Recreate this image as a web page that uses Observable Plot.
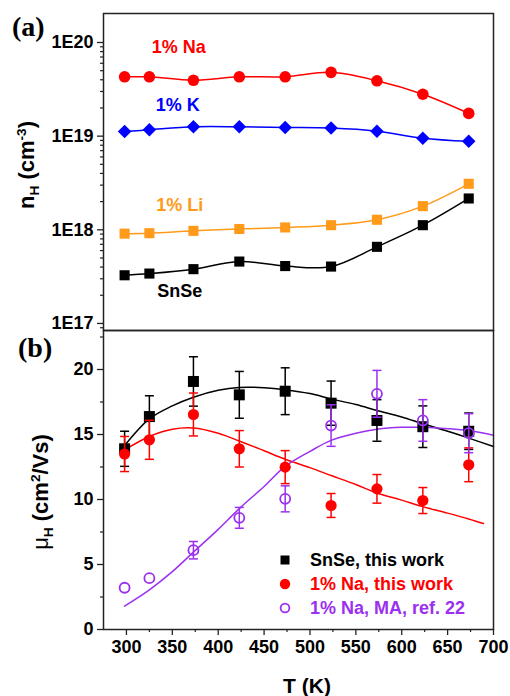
<!DOCTYPE html>
<html><head><meta charset="utf-8">
<script src="https://cdn.jsdelivr.net/npm/d3@7"></script>
<script src="https://cdn.jsdelivr.net/npm/@observablehq/plot@0.6"></script>
<style>
body{margin:0;background:#fff;}
#wrap{position:relative;width:510px;height:696px;overflow:hidden;font-family:"Liberation Sans",Arial,sans-serif;font-weight:bold;color:#000;}
#wrap svg{position:absolute;left:0;overflow:visible;}
.lbl{position:absolute;white-space:nowrap;line-height:1;}
.rot{transform:translate(-50%,-50%) rotate(-90deg);font-size:22px;}
.pl{font-family:"Liberation Serif","Times New Roman",serif;font-size:28px;}
.leg{position:absolute;left:278px;font-size:18px;}
.leg div{height:24px;display:flex;align-items:center;}
.leg svg{position:static !important;margin-right:18px;}
sub,sup{font-size:0.62em;line-height:0;}
</style></head><body><div id="wrap"></div>
<script>
// ---------- data ----------
const T = [298, 325, 373, 423, 473, 523, 573, 623, 673];
// panel (a): Hall carrier concentration n_H (cm^-3)
const nNa   = [4.3e19, 4.3e19, 3.95e19, 4.3e19, 4.3e19, 4.8e19, 3.9e19, 2.8e19, 1.75e19];
const nK    = [1.12e19, 1.17e19, 1.26e19, 1.26e19, 1.24e19, 1.22e19, 1.13e19, 9.5e18, 8.8e18];
const nLi   = [9.1e17, 9.2e17, 9.75e17, 1.02e18, 1.06e18, 1.12e18, 1.28e18, 1.79e18, 3.1e18];
const nSnSe = [3.27e17, 3.41e17, 3.8e17, 4.58e17, 4.1e17, 4.05e17, 6.58e17, 1.12e18, 2.16e18];
// panel (b): Hall mobility mu_H (cm^2/Vs) with error bars
const muSnSe  = [13.9, 16.38, 19.08, 18.05, 18.33, 17.41, 16.08, 15.6, 15.25];
const errSnSe = [1.35, 1.6, 1.9, 1.8, 1.8, 1.7, 1.6, 1.6, 1.4];
const muNa    = [13.5, 14.59, 16.54, 13.9, 12.49, 9.54, 10.82, 9.92, 12.67];
const errNa   = [1.35, 1.5, 1.65, 1.4, 1.27, 0.92, 1.1, 1.0, 1.3];
const muMA    = [3.21, 3.95, 6.1, 8.59, 10.05, 15.69, 18.13, 16.08, 15.1];
const errMA   = [0, 0, 0.67, 0.8, 1.0, 1.6, 1.8, 1.6, 1.5];
// fitted curves
const fitT     = [298, 325, 350, 373, 400, 423, 450, 473, 500, 523, 550, 573, 600, 623, 650, 673, 700];
const fitSnSe  = [14.15, 16.2, 17.2, 17.87, 18.4, 18.62, 18.6, 18.45, 18.15, 17.74, 17.3, 16.85, 16.35, 15.82, 15.25, 14.72, 14.08];
const fitNaT   = [298, 325, 350, 373, 400, 423, 450, 473, 500, 523, 550, 573, 600, 623, 650, 673, 689];
const fitNa    = [13.82, 14.85, 15.4, 15.5, 15.1, 14.5, 13.75, 13.1, 12.45, 11.85, 11.15, 10.5, 9.95, 9.45, 8.95, 8.5, 8.15];
const fitMA    = [1.8, 3.05, 4.45, 5.95, 7.7, 9.3, 11.0, 12.55, 13.7, 14.55, 15.1, 15.4, 15.55, 15.55, 15.45, 15.3, 14.95];
// ticks
const nTicks = [1e17, 1e18, 1e19, 1e20];
const nTickLabels = ["1E17", "1E18", "1E19", "1E20"];
const muTicks = [0, 5, 10, 15, 20];
const muMinor = [2.5, 7.5, 12.5, 17.5, 22.5];
const tTicks = [300, 350, 400, 450, 500, 550, 600, 650, 700];
const tMinor = [325, 375, 425, 475, 525, 575, 625, 675];
// series labels in panel (a)
const aLabels = ["1% Na", "1% K", "1% Li", "SnSe"];
const aLabelT = [357, 356, 358, 358];
const aLabelN = [8.85e19, 2.12e19, 1.85e18, 2.23e17];
const legendLabels = ["SnSe, this work", "1% Na, this work", "1% Na, MA, ref. 22"];

// ---------- styles ----------
const RED = "#ff0000", BLUE = "#0000ff", ORANGE = "#ff9a1a", PURPLE = "#9b30f0", BLACK = "#000000";
const AX = "#222";
const FONT = '"Liberation Sans", Arial, sans-serif';
const base = {fontFamily: FONT, fontWeight: "bold", fontSize: "18px", color: "#000", background: "transparent", overflow: "visible"};
const xDomain = [275, 700];
const nMinor = [];
for (let e = 16; e <= 19; e++) for (let m = 2; m <= 9; m++) { const v = m * 10 ** e; if (v > 8.4e16 && v < 2.04e20) nMinor.push(v); }

const rows = (ys) => T.map((t, i) => ({T: t, v: ys[i]}));
const erows = (ys, es) => T.map((t, i) => ({T: t, v: ys[i], lo: ys[i] - es[i], hi: ys[i] + es[i], e: es[i]})).filter(d => d.e > 0);
const frows = (ts, ys) => ts.map((t, i) => ({T: t, v: ys[i]}));
const cap = {draw(ctx) { ctx.moveTo(-4.5, 0); ctx.lineTo(4.5, 0); }};
const inTick = {draw(ctx, l) { ctx.moveTo(0, 0); ctx.lineTo(0, -l); }};

// ---------- panel (a) ----------
const plotA = Plot.plot({
  width: 510, height: 332, marginLeft: 103, marginRight: 17, marginTop: 13, marginBottom: 2,
  style: base,
  x: {domain: xDomain, axis: null},
  y: {type: "log", domain: [8.41e16, 2.04e20]},
  marks: [
    Plot.axisY(nMinor, {tickSize: 3, tickFormat: () => "", stroke: AX, strokeWidth: 1.2, label: null}),
    Plot.axisY(nTicks, {tickSize: 6, tickPadding: 4, tickFormat: d => nTickLabels[nTicks.indexOf(d)], stroke: AX, strokeWidth: 1.3, fontSize: 18, fontWeight: "bold", fill: "#000", label: null}),
    Plot.line(rows(nNa), {x: "T", y: "v", stroke: RED, strokeWidth: 1.5, curve: "catmull-rom"}),
    Plot.line(rows(nK), {x: "T", y: "v", stroke: BLUE, strokeWidth: 1.5, curve: "catmull-rom"}),
    Plot.line(rows(nLi), {x: "T", y: "v", stroke: ORANGE, strokeWidth: 1.5, curve: "catmull-rom"}),
    Plot.line(rows(nSnSe), {x: "T", y: "v", stroke: BLACK, strokeWidth: 1.5, curve: "catmull-rom"}),
    Plot.dot(rows(nNa), {x: "T", y: "v", fill: RED, r: 5.8, symbol: "circle"}),
    Plot.dot(rows(nK), {x: "T", y: "v", fill: BLUE, r: 6.1, symbol: "diamond2"}),
    Plot.dot(rows(nLi), {x: "T", y: "v", fill: ORANGE, r: 5.7, symbol: "square"}),
    Plot.dot(rows(nSnSe), {x: "T", y: "v", fill: BLACK, r: 5.7, symbol: "square"}),
    Plot.text(aLabels, {x: (d, i) => aLabelT[i], y: (d, i) => aLabelN[i], text: d => d,
      fill: [RED, BLUE, ORANGE, BLACK], fontSize: 18, fontWeight: "bold"}),
    Plot.frame({stroke: AX, strokeWidth: 1.5})
  ]
});
plotA.style.top = "0px";

// ---------- panel (b) ----------
const plotB = Plot.plot({
  width: 510, height: 376, marginLeft: 103, marginRight: 17, marginTop: 10, marginBottom: 67,
  style: base,
  x: {domain: xDomain},
  y: {domain: [0, 23]},
  marks: [
    Plot.axisY(muMinor, {tickSize: 3, tickFormat: () => "", stroke: AX, strokeWidth: 1.2, label: null}),
    Plot.axisY(muTicks, {tickSize: 6, tickPadding: 4, stroke: AX, strokeWidth: 1.3, fontSize: 18, fontWeight: "bold", fill: "#000", label: null}),
    Plot.axisX(tMinor, {tickSize: 3, tickFormat: () => "", stroke: AX, strokeWidth: 1.2, label: null}),
    Plot.axisX(tTicks, {tickSize: 6, tickPadding: 5, stroke: AX, strokeWidth: 1.3, fontSize: 18, fontWeight: "bold", fill: "#000", label: null}),
    Plot.vectorY(tTicks, {x: d => d, frameAnchor: "top", length: 6, rotate: 180, anchor: "start", shape: inTick, stroke: AX, strokeWidth: 1.3}),
    Plot.vectorY(tMinor, {x: d => d, frameAnchor: "top", length: 3, rotate: 180, anchor: "start", shape: inTick, stroke: AX, strokeWidth: 1.2}),
    Plot.line(frows(fitT, fitSnSe), {x: "T", y: "v", stroke: BLACK, strokeWidth: 1.5, curve: "catmull-rom"}),
    Plot.line(frows(fitNaT, fitNa), {x: "T", y: "v", stroke: RED, strokeWidth: 1.5, curve: "catmull-rom"}),
    Plot.line(frows(fitT, fitMA), {x: "T", y: "v", stroke: PURPLE, strokeWidth: 1.5, curve: "catmull-rom"}),
    // SnSe
    Plot.ruleX(erows(muSnSe, errSnSe), {x: "T", y1: "lo", y2: "hi", stroke: BLACK, strokeWidth: 1.5}),
    Plot.dot(erows(muSnSe, errSnSe), {x: "T", y: "lo", symbol: cap, stroke: BLACK, strokeWidth: 1.5}),
    Plot.dot(erows(muSnSe, errSnSe), {x: "T", y: "hi", symbol: cap, stroke: BLACK, strokeWidth: 1.5}),
    Plot.dot(rows(muSnSe), {x: "T", y: "v", fill: BLACK, r: 6.2, symbol: "square"}),
    // 1% Na
    Plot.ruleX(erows(muNa, errNa), {x: "T", y1: "lo", y2: "hi", stroke: RED, strokeWidth: 1.5}),
    Plot.dot(erows(muNa, errNa), {x: "T", y: "lo", symbol: cap, stroke: RED, strokeWidth: 1.5}),
    Plot.dot(erows(muNa, errNa), {x: "T", y: "hi", symbol: cap, stroke: RED, strokeWidth: 1.5}),
    Plot.dot(rows(muNa), {x: "T", y: "v", fill: RED, r: 5.6}),
    // 1% Na MA
    Plot.ruleX(erows(muMA, errMA), {x: "T", y1: "lo", y2: "hi", stroke: PURPLE, strokeWidth: 1.5}),
    Plot.dot(erows(muMA, errMA), {x: "T", y: "lo", symbol: cap, stroke: PURPLE, strokeWidth: 1.5}),
    Plot.dot(erows(muMA, errMA), {x: "T", y: "hi", symbol: cap, stroke: PURPLE, strokeWidth: 1.5}),
    Plot.dot(rows(muMA), {x: "T", y: "v", fill: "none", stroke: PURPLE, strokeWidth: 1.8, r: 5}),
    Plot.frame({stroke: AX, strokeWidth: 1.5})
  ]
});
plotB.style.top = "320px";

const wrap = document.getElementById("wrap");
wrap.append(plotA, plotB);

function addLabel(html, css, cls) {
  const d = document.createElement("div");
  d.className = "lbl " + (cls || "");
  d.innerHTML = html;
  Object.assign(d.style, css);
  wrap.append(d);
  return d;
}
addLabel("(a)", {left: "12px", top: "13px"}, "pl");
addLabel("(b)", {left: "18px", top: "334px"}, "pl");
addLabel("n<sub>H</sub> (cm<sup>-3</sup>)", {left: "27px", top: "165px"}, "rot");
addLabel("<span style='font-weight:normal'>&mu;</span><sub>H</sub> (cm<sup>2</sup>/Vs)", {left: "41px", top: "492px"}, "rot");
addLabel("T (K)", {left: "307px", top: "685px", transform: "translate(-50%,-50%)", fontSize: "21px"});

// legend
const leg = document.createElement("div");
leg.className = "leg";
leg.style.top = "548px";
const legSym = [
  '<svg width="14" height="14"><rect x="2.5" y="2.5" width="9" height="9" fill="#000"/></svg>',
  '<svg width="14" height="14"><circle cx="7" cy="7" r="5.2" fill="' + RED + '"/></svg>',
  '<svg width="14" height="14"><circle cx="7" cy="7" r="4.4" fill="none" stroke="' + PURPLE + '" stroke-width="1.8"/></svg>'
];
const legCol = [BLACK, RED, PURPLE];
legendLabels.forEach((t, i) => {
  const r = document.createElement("div");
  r.innerHTML = legSym[i] + '<span style="color:' + legCol[i] + '">' + t + '</span>';
  leg.append(r);
});
wrap.append(leg);
</script></body></html>
